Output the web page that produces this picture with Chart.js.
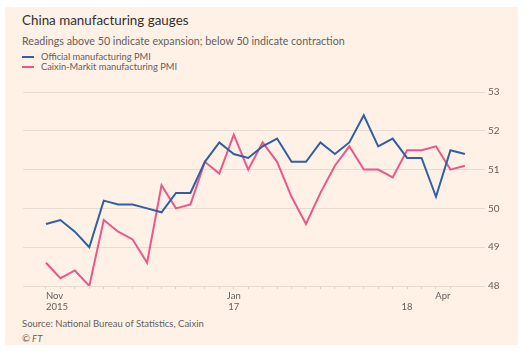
<!DOCTYPE html>
<html>
<head>
<meta charset="utf-8">
<script src="https://cdn.jsdelivr.net/npm/chart.js@4"></script>
<style>
  html, body { margin: 0; padding: 0; background: #fff; }
  #wrap { position: relative; width: 529px; height: 353px; overflow: hidden; }
  #panel { position: absolute; left: 5px; top: 7px; width: 513px; height: 338px; background: #fff1e5; }
  .txt { position: absolute; font-family: Lato, sans-serif; white-space: nowrap; }
  #title { left: 22px; top: 12px; font-size: 13.4px; color: #33302e; }
  #sub { left: 22px; top: 34px; font-size: 10.7px; color: #66605c; }
  .leg { left: 22px; font-size: 9.3px; color: #66605c; }
  .leg span { display: inline-block; width: 12px; height: 2px; margin-right: 7px; vertical-align: middle; position: relative; top: -1px; }
  #src { left: 22px; top: 318px; font-size: 9.5px; color: #66605c; }
  #ft { left: 22px; top: 333px; font-size: 9.5px; color: #66605c; font-style: italic; }
  canvas { position: absolute; left: 0; top: 0; }
</style>
</head>
<body>
<div id="wrap">
  <div id="panel"></div>
  <div class="txt" id="title">China manufacturing gauges</div>
  <div class="txt" id="sub">Readings above 50 indicate expansion; below 50 indicate contraction</div>
  <div class="txt leg" style="top:51px"><span style="background:#2f5fa5"></span>Official manufacturing PMI</div>
  <div class="txt leg" style="top:61px"><span style="background:#e9588c"></span>Caixin-Markit manufacturing PMI</div>
  <div class="txt" id="src">Source: National Bureau of Statistics, Caixin</div>
  <div class="txt" id="ft">© FT</div>
  <canvas id="pmiChart" width="529" height="353"></canvas>
</div>
<script>
// Nov 2015 - Apr 2018, monthly
const months = [
  'Nov 2015', 'Dec 2015', 'Jan 2016', 'Feb 2016', 'Mar 2016', 'Apr 2016', 'May 2016', 'Jun 2016',
  'Jul 2016', 'Aug 2016', 'Sep 2016', 'Oct 2016', 'Nov 2016', 'Dec 2016', 'Jan 2017', 'Feb 2017',
  'Mar 2017', 'Apr 2017', 'May 2017', 'Jun 2017', 'Jul 2017', 'Aug 2017', 'Sep 2017', 'Oct 2017',
  'Nov 2017', 'Dec 2017', 'Jan 2018', 'Feb 2018', 'Mar 2018', 'Apr 2018'
];
const officialPMI = [
  49.6, 49.7, 49.4, 49.0, 50.2, 50.1, 50.1, 50.0, 49.9, 50.4, 50.4, 51.2, 51.7, 51.4, 51.3,
  51.6, 51.8, 51.2, 51.2, 51.7, 51.4, 51.7, 52.4, 51.6, 51.8, 51.3, 51.3, 50.3, 51.5, 51.4
];
const caixinPMI = [
  48.6, 48.2, 48.4, 48.0, 49.7, 49.4, 49.2, 48.6, 50.6, 50.0, 50.1, 51.2, 50.9, 51.9, 51.0,
  51.7, 51.2, 50.3, 49.6, 50.4, 51.1, 51.6, 51.0, 51.0, 50.8, 51.5, 51.5, 51.6, 51.0, 51.1
];
// tick labels on the x axis, keyed by month index
const xTickLabels = { 0: ['Nov', '2015'], 13: ['Jan', '17'], 25: ['', '18'], 28: 'Apr' };
const yTicks = [48, 49, 50, 51, 52, 53];

const gridColor = '#e8dbcf';
const labelColor = '#66605c';

function toPoints(values) {
    return values.map((v, i) => ({ x: i, y: v }));
}

const ctx = document.getElementById('pmiChart').getContext('2d');
new Chart(ctx, {
    type: 'line',
    data: {
        labels: months,
        datasets: [{
            label: 'Official manufacturing PMI',
            data: toPoints(officialPMI),
            borderColor: '#2f5fa5',
            borderWidth: 2,
            pointRadius: 0,
            tension: 0
        }, {
            label: 'Caixin-Markit manufacturing PMI',
            data: toPoints(caixinPMI),
            borderColor: '#e9588c',
            borderWidth: 2,
            pointRadius: 0,
            tension: 0
        }]
    },
    options: {
        responsive: false,
        animation: false,
        layout: {
            padding: { left: 23, top: 92, right: 24, bottom: 37 }
        },
        plugins: {
            legend: { display: false },
            tooltip: { enabled: false }
        },
        scales: {
            x: {
                type: 'linear',
                min: -1.59,
                max: 29.7,
                afterBuildTicks: scale => {
                    scale.ticks = scale.ticks.filter(t => t.value >= 0 && t.value <= months.length - 1);
                },
                afterFit: scale => { scale.height = 30; },
                grid: {
                    drawOnChartArea: false,
                    drawTicks: true,
                    tickLength: 3,
                    color: '#dccfc3'
                },
                border: { display: false },
                ticks: {
                    stepSize: 1,
                    maxTicksLimit: 100,
                    autoSkip: false,
                    maxRotation: 0,
                    align: 'inner',
                    padding: 1,
                    color: labelColor,
                    font: { family: 'Lato', size: 9.5 },
                    callback: value => xTickLabels[value] || ''
                }
            },
            y: {
                position: 'right',
                min: yTicks[0],
                max: yTicks[yTicks.length - 1],
                afterFit: scale => { scale.width = 30; },
                afterBuildTicks: scale => {
                    scale.ticks = yTicks.map(v => ({ value: v }));
                },
                grid: {
                    color: gridColor,
                    drawTicks: true,
                    tickLength: 10
                },
                border: { display: false },
                ticks: {
                    padding: 3,
                    color: labelColor,
                    font: { family: 'Lato', size: 10 }
                }
            }
        }
    }
});
</script>
</body>
</html>
